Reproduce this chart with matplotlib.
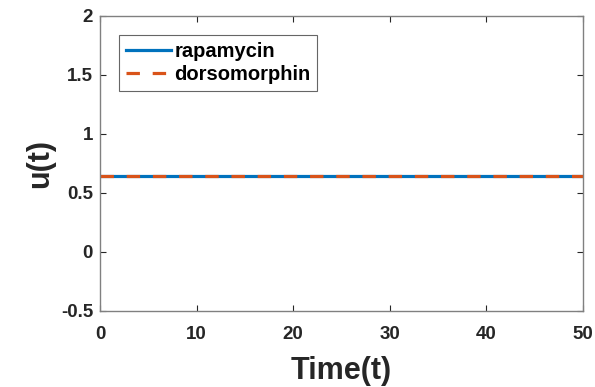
import matplotlib
matplotlib.use("Agg")
import matplotlib.pyplot as plt

time_t = [0, 50]
rapamycin = [0.64, 0.64]
dorsomorphin = [0.64, 0.64]
x_ticks = [0, 10, 20, 30, 40, 50]
y_ticks = [-0.5, 0, 0.5, 1, 1.5, 2]
y_tick_labels = ["-0.5", "0", "0.5", "1", "1.5", "2"]

plt.rcParams['font.family'] = ['Liberation Sans', 'DejaVu Sans']
plt.rcParams['font.weight'] = 'bold'

fig = plt.figure(figsize=(5.95, 3.87), dpi=100)
ax = fig.add_axes([0.168, 0.197, 0.812, 0.762])

ax.plot(time_t, rapamycin, color='#0072BD', lw=2.3, label='rapamycin')
ax.plot(time_t, dorsomorphin, color='#D95319', lw=2.3, ls=(0, (4.2, 4.0)), label='dorsomorphin')

ax.set_xlim(0, 50)
ax.set_ylim(-0.5, 2)
ax.set_xticks(x_ticks)
ax.set_yticks(y_ticks)
ax.set_yticklabels(y_tick_labels)
ax.tick_params(direction='in', top=True, right=True, length=4, width=0.8,
               colors='#262626', labelsize=13.5)
ax.tick_params(axis='x', pad=11)
ax.tick_params(axis='y', pad=5)
for sp in ax.spines.values():
    sp.set_color('#808080')
    sp.set_linewidth(1.0)

ax.set_xlabel('Time(t)', fontsize=22, fontweight='bold', color='#262626', labelpad=9)
ax.set_ylabel('u(t)', fontsize=22, fontweight='bold', color='#262626', labelpad=4)

leg = ax.legend(loc='upper left', bbox_to_anchor=(0.039, 0.935), borderaxespad=0,
                fontsize=14.5, frameon=True, fancybox=False, edgecolor='#404040',
                handlelength=2.25, borderpad=0.35, labelspacing=0.2, handletextpad=0.15)
leg.get_frame().set_linewidth(0.8)

fig.savefig('out.png', dpi=100)
